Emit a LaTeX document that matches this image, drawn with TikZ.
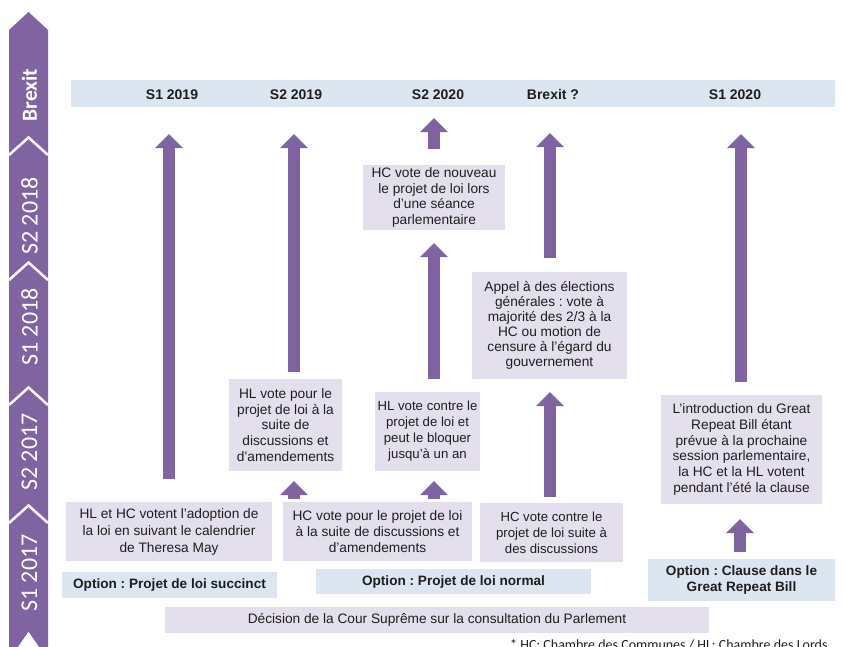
\documentclass[tikz,border=0pt]{standalone}
\usepackage{fontspec}
\setmainfont{Liberation Sans}
\newfontfamily\calfont{Carlito}
\usetikzlibrary{arrows.meta}
\frenchspacing
\definecolor{lav}{HTML}{E4DFEC}
\definecolor{lblue}{HTML}{DCE6F1}
\definecolor{purp}{HTML}{8064A2}
\definecolor{txt}{HTML}{1E1E1E}
\tikzset{
  lavbox/.style={fill=lav, draw=none, inner sep=0pt, align=center, text=txt,
    font=\fontsize{13.7}{15.8}\selectfont},
  bluebox/.style={fill=lblue, draw=none, inner sep=0pt, align=center, text=txt,
    font=\bfseries\fontsize{13.6}{15.8}\selectfont},
  hdr/.style={text=txt, font=\bfseries\fontsize{14}{16}\selectfont, inner sep=0pt, anchor=base},
  barrow/.style={draw=purp, line width=12.5pt, -{Triangle[width=27pt,length=14pt]}},
  tl/.style={text=white, rotate=90, inner sep=0pt, font=\calfont\fontsize{24}{26}\selectfont},
  sep/.style={draw=white, line width=2.5pt}
}
\begin{document}
\begin{tikzpicture}[x=1pt,y=-1pt]
\useasboundingbox (0,0) rectangle (844,646);
\clip (0,0) rectangle (844,646);
\fill[white] (0,0) rectangle (844,646);

% timeline strip
\fill[purp] (9,30) -- (28.5,12) -- (48,30) -- (48,660) -- (28.5,632) -- (9,660) -- cycle;
\draw[sep] (9,155) -- (28.5,137.5) -- (48,155);
\draw[sep] (9,280) -- (28.5,262.5) -- (48,280);
\draw[sep] (9,405) -- (28.5,387.5) -- (48,405);
\draw[sep] (9,523) -- (28.5,505.5) -- (48,523);
\fill[white] (9,660) -- (28.5,632) -- (48,660) -- cycle;
\node[tl, font=\calfont\bfseries\fontsize{21.5}{24}\selectfont] (tbrexit) at (29.5,95) {Brexit};
\node[tl] (ts218) at (29.5,216) {S2 2018};
\node[tl] (ts118) at (29.5,327) {S1 2018};
\node[tl] (ts217) at (29.5,452) {S2 2017};
\node[tl] (ts117) at (29.5,573) {S1 2017};

% header
\node[fill=lblue, minimum width=764pt, minimum height=27pt, inner sep=0pt] (header) at (453,93.5) {};
\node[hdr] (h1) at (172,99) {S1 2019};
\node[hdr] (h2) at (296,99) {S2 2019};
\node[hdr] (h3) at (438,99) {S2 2020};
\node[hdr] (h4) at (553,99) {Brexit ?};
\node[hdr] (h5) at (735,99) {S1 2020};

% boxes
\node[lavbox, minimum width=142pt, minimum height=65pt] (hcnouv) at (434,197.5)
  {HC vote de nouveau\\le projet de loi lors\\d’une séance\\parlementaire};
\node[lavbox, minimum width=155pt, minimum height=107pt, font=\fontsize{13.7}{15}\selectfont] (appel) at (549.5,325.5)
  {Appel à des élections\\générales : vote à\\majorité des 2/3 à la\\HC ou motion de\\censure à l’égard du\\gouvernement};
\node[lavbox, minimum width=113pt, minimum height=92pt] (hlpour) at (285.5,425)
  {HL vote pour le\\projet de loi à la\\suite de\\discussions et\\d’amendements};
\node[lavbox, minimum width=105pt, minimum height=79pt, font=\fontsize{13.2}{16}\selectfont] (hlcontre) at (427.5,431.5)
  {HL vote contre le\\projet de loi et\\peut le bloquer\\jusqu’à un an};
\node[lavbox, minimum width=161pt, minimum height=109pt] (intro) at (741.5,449.5)
  {L’introduction du Great\\Repeat Bill étant\\prévue à la prochaine\\session parlementaire,\\la HC et la HL votent\\pendant l’été la clause};
\node[lavbox, minimum width=206pt, minimum height=59pt, font=\fontsize{13.7}{17}\selectfont] (hlhc) at (169,531.5)
  {HL et HC votent l’adoption de\\la loi en suivant le calendrier\\de Theresa May};
\node[lavbox, minimum width=189pt, minimum height=59pt] (hcpour) at (377.5,531.5)
  {HC vote pour le projet de loi\\à la suite de discussions et\\d’amendements};
\node[lavbox, minimum width=143pt, minimum height=59pt, font=\fontsize{13.2}{16}\selectfont] (hccontre) at (551.5,532.5)
  {HC vote contre le\\projet de loi suite à\\des discussions};
\node[bluebox, minimum width=215pt, minimum height=26pt] (optsucc) at (169.5,585)
  {Option : Projet de loi succinct};
\node[bluebox, minimum width=275pt, minimum height=25pt] (optnorm) at (453.5,581.5)
  {Option : Projet de loi normal};
\node[bluebox, minimum width=187pt, minimum height=42pt] (optclause) at (741.5,580)
  {Option : Clause dans le\\Great Repeat Bill};
\node[lavbox, minimum width=544pt, minimum height=26pt] (decision) at (437,620)
  {Décision de la Cour Suprême sur la consultation du Parlement};

% arrows
\coordinate (a1s) at (169,479); \coordinate (a1e) at (169,134);
\coordinate (a2s) at (294,372); \coordinate (a2e) at (294,134);
\coordinate (a3s) at (434,149); \coordinate (a3e) at (434,118);
\coordinate (a4s) at (434,379); \coordinate (a4e) at (434,243);
\coordinate (a5s) at (550,258); \coordinate (a5e) at (550,133);
\coordinate (a6s) at (741,382); \coordinate (a6e) at (741,134);
\coordinate (a7s) at (550,497); \coordinate (a7e) at (550,392);
\coordinate (a8s) at (294,499); \coordinate (a8e) at (294,481);
\coordinate (a9s) at (434,499); \coordinate (a9e) at (434,481);
\coordinate (a10s) at (740,552); \coordinate (a10e) at (740,519);
\foreach \i in {1,...,10} \draw[barrow] (a\i s) -- (a\i e);

% footnote
\node[anchor=base west, inner sep=0pt, text=txt, font=\calfont\fontsize{14}{16}\selectfont] (foot) at (510,649)
  {* HC: Chambre des Communes / HL: Chambre des Lords};
\end{tikzpicture}
\end{document}
